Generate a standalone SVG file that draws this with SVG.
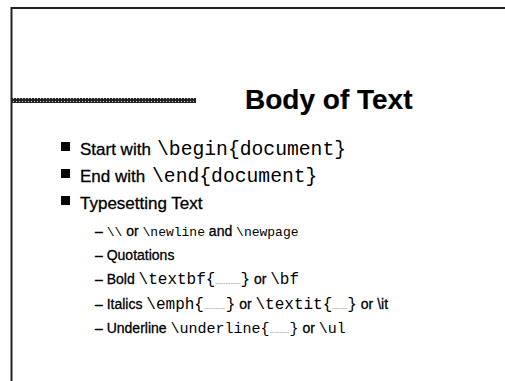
<svg xmlns="http://www.w3.org/2000/svg" width="505" height="381" viewBox="0 0 505 381">
<defs>
<pattern id="bar" x="0" y="0" width="3" height="5" patternUnits="userSpaceOnUse">
<rect width="3" height="5" fill="#222"/>
<rect x="1" y="1" width="1" height="1" fill="#ccc"/>
<rect x="1" y="3" width="1" height="1" fill="#ccc"/>
</pattern>
</defs>
<style>
.s{font-family:"Liberation Sans",Arial,sans-serif;fill:#000;stroke:#000;stroke-width:0.3px}
.m{font-family:"Liberation Mono","Courier New",monospace;fill:#000;stroke:none}
.d{font-family:"Liberation Sans",Arial,sans-serif;font-size:6px;stroke:none}
</style>
<rect width="505" height="381" fill="#fff"/>
<g id="frame" stroke="#222" stroke-width="2" fill="none">
<path d="M505 8 H11.5 V381"/>
</g>
<rect x="12" y="98" width="184" height="5" fill="url(#bar)"/>
<g id="title"><text class="s" x="245" y="109" font-size="28" font-weight="bold" style="stroke-width:0.2px">Body of Text</text></g>
<g id="bullets">
<rect x="61" y="142" width="9" height="9"/>
<rect x="61" y="169" width="9" height="9"/>
<rect x="61" y="196" width="9" height="9"/>
<text class="s" x="80" y="155" font-size="17">Start with <tspan class="m" x="157" font-size="19.7">\begin{document}</tspan></text>
<text class="s" x="80" y="182" font-size="17">End with <tspan class="m" x="152" font-size="19.7">\end{document}</tspan></text>
<text class="s" x="80" y="209" font-size="17">Typesetting Text</text>
</g>
<g id="subitems">
<text class="s" x="95" y="236" font-size="14">– <tspan class="m" font-size="13">\\</tspan> or <tspan class="m" font-size="13">\newline</tspan> and <tspan class="m" font-size="13">\newpage</tspan></text>
<text class="s" x="95" y="260" font-size="14">– Quotations</text>
<text class="s" x="95" y="284" font-size="14">– Bold <tspan class="m" font-size="16">\textbf{</tspan><tspan class="d">...............</tspan><tspan class="m" font-size="16">}</tspan>  or <tspan class="m" font-size="16">\bf</tspan></text>
<text class="s" x="95" y="309" font-size="14">– Italics <tspan class="m" font-size="16">\emph{</tspan><tspan class="d">.............</tspan><tspan class="m" font-size="16">}</tspan> or <tspan class="m" font-size="16">\textit{</tspan><tspan class="d">.........</tspan><tspan class="m" font-size="16">}</tspan>  or \it</text>
<text class="s" x="95" y="333" font-size="14">– Underline <tspan class="m" font-size="15">\underline{</tspan><tspan class="d">............</tspan><tspan class="m" font-size="15">}</tspan>  or <tspan class="m" font-size="15">\ul</tspan></text>
</g>
</svg>
